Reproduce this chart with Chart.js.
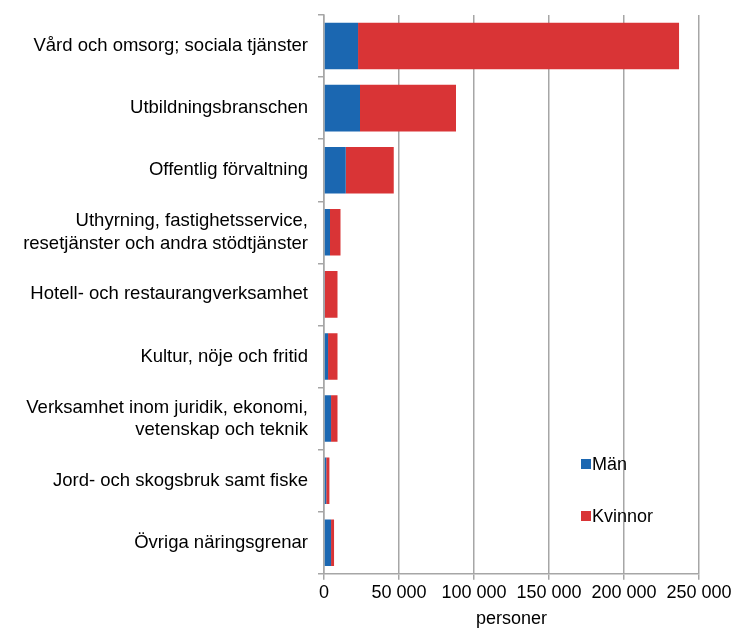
<!DOCTYPE html>
<html>
<head>
<meta charset="utf-8">
<script src="https://cdn.jsdelivr.net/npm/chart.js@4"></script>
<style>
  html, body { margin: 0; padding: 0; background: #fff; }
  #wrap { width: 735px; height: 630px; }
</style>
</head>
<body>
<div id="wrap"><canvas id="chart"></canvas></div>
<script>
// data (personer)
const branscher = [
  'Vård och omsorg; sociala tjänster',
  'Utbildningsbranschen',
  'Offentlig förvaltning',
  ['Uthyrning, fastighetsservice,', 'resetjänster och andra stödtjänster'],
  'Hotell- och restaurangverksamhet',
  'Kultur, nöje och fritid',
  ['Verksamhet inom juridik, ekonomi,', 'vetenskap och teknik'],
  'Jord- och skogsbruk samt fiske',
  'Övriga näringsgrenar'
];
const man = [22700, 24000, 14500, 4000, 600, 2700, 4700, 1500, 4700];
const kvinnor = [214000, 64000, 32000, 7000, 8400, 6300, 4300, 2100, 2000];
const xTicks = [0, 50000, 100000, 150000, 200000, 250000];

const FONT = 'Liberation Sans, Arial, sans-serif';

function fmtSpace(n){
  return String(n).replace(/\B(?=(\d{3})+(?!\d))/g, ' ');
}

// legend drawn inside the plot, excel style
const innerLegend = {
  id: 'innerLegend',
  afterDraw(chart){
    const ctx = chart.ctx;
    const items = [
      { y: 464, ds: chart.data.datasets[0] },
      { y: 516, ds: chart.data.datasets[1] }
    ];
    ctx.save();
    ctx.font = '18px ' + FONT;
    ctx.textBaseline = 'middle';
    items.forEach(it => {
      ctx.fillStyle = it.ds.backgroundColor;
      ctx.fillRect(581, it.y - 5, 10, 10);
      ctx.fillStyle = '#000';
      ctx.fillText(it.ds.label, 592, it.y + 1);
    });
    ctx.restore();
  }
};

new Chart(document.getElementById('chart'), {
  type: 'bar',
  data: {
    labels: branscher,
    datasets: [
      { label: 'Män', data: man, backgroundColor: '#1b67b1', categoryPercentage: 0.75, barPercentage: 1 },
      { label: 'Kvinnor', data: kvinnor, backgroundColor: '#d93436', categoryPercentage: 0.75, barPercentage: 1 }
    ]
  },
  options: {
    indexAxis: 'y',
    responsive: true,
    maintainAspectRatio: false,
    animation: false,
    layout: { padding: { left: 10, right: 36, top: 15, bottom: 0 } },
    plugins: {
      legend: { display: false },
      tooltip: { enabled: false }
    },
    scales: {
      x: {
        stacked: true,
        min: 0,
        max: 250000,
        afterBuildTicks(scale){ scale.ticks = xTicks.map(v => ({ value: v })); },
        ticks: {
          color: '#000',
          font: { family: FONT, size: 18, lineHeight: 1.2 },
          padding: 2,
          maxRotation: 0,
          callback: v => fmtSpace(v)
        },
        grid: { color: '#a6a6a6', lineWidth: 1.5, tickLength: 6 },
        border: { color: '#a6a6a6', width: 1.5 },
        title: {
          display: true,
          text: 'personer',
          color: '#000',
          font: { family: FONT, size: 18, lineHeight: 1.2 },
          padding: { top: 3, bottom: 0 }
        }
      },
      y: {
        stacked: true,
        afterFit(scale){
          scale.width = 314;
          // labels sit at band centres, no overflow above the plot
          scale.paddingTop = 0;
          scale.paddingBottom = 0;
        },
        ticks: {
          color: '#000',
          font: { family: FONT, size: 18.5, lineHeight: 1.2 },
          padding: 10
        },
        grid: { offset: true, drawOnChartArea: false, color: '#a6a6a6', lineWidth: 1.5, tickLength: 6 },
        border: { color: '#a6a6a6', width: 1.5 }
      }
    }
  },
  plugins: [innerLegend]
});
</script>
</body>
</html>
